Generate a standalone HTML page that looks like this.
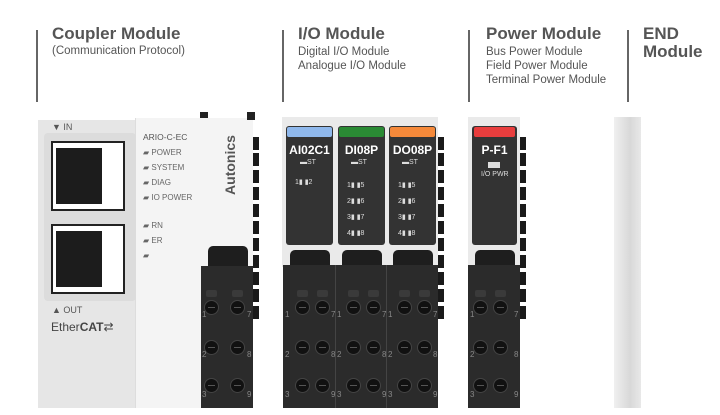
<!DOCTYPE html>
<html><head><meta charset="utf-8"><style>
body{margin:0;width:720px;height:408px;overflow:hidden;background:#fff;font-family:"Liberation Sans",sans-serif;position:relative}
div{position:absolute;box-sizing:border-box}
.vl{width:2px;background:#666;top:30px;height:72px}
.h{font-weight:bold;font-size:17px;color:#555;line-height:18px}
.s{font-size:11.5px;color:#555;line-height:14px}
.blk{background:#2b2b2b}
.hole{width:15px;height:15px;border-radius:50%;background:#111;border:1px solid #444}
.hole:after{content:"";position:absolute;left:3px;right:3px;top:6px;height:1px;background:#555}
.sq{width:11px;height:7px;background:#3a3a3a;border-radius:2px}
.n{font-size:8px;color:#888}
.panel{background:#333;border-radius:3px}
.lab{color:#fff;font-weight:bold;font-size:12px;width:100%;text-align:center}
.led{background:#ddd}
.t{font-size:7px;color:#ddd}
.tab{background:#1a1a1a;width:6px;height:13px}
.clip{background:#1e1e1e;border-radius:5px 5px 0 0}
</style></head><body>
<!-- headers -->
<div class="vl" style="left:36px"></div>
<div class="h" style="left:52px;top:25px">Coupler Module</div>
<div class="s" style="left:52px;top:44px">(Communication Protocol)</div>
<div class="vl" style="left:282px"></div>
<div class="h" style="left:298px;top:25px">I/O Module</div>
<div class="s" style="left:298px;top:45px">Digital I/O Module<br>Analogue I/O Module</div>
<div class="vl" style="left:468px"></div>
<div class="h" style="left:486px;top:25px">Power Module</div>
<div class="s" style="left:486px;top:45px">Bus Power Module<br>Field Power Module<br>Terminal Power Module</div>
<div class="vl" style="left:627px"></div>
<div class="h" style="left:643px;top:25px">END<br>Module</div>

<!-- coupler -->
<div style="left:38px;top:120px;width:98px;height:288px;background:#e6e6e6"></div>
<div style="left:135px;top:118px;width:118px;height:290px;background:#f4f4f4;border-left:1px solid #ddd"></div>
<div style="left:44px;top:133px;width:92px;height:168px;background:#dcdcdc;border-radius:4px"></div>
<div style="left:51px;top:141px;width:74px;height:70px;background:#fff;border:2px solid #222"></div>
<div style="left:56px;top:148px;width:46px;height:56px;background:#1c1c1c"></div>
<div style="left:51px;top:224px;width:74px;height:70px;background:#fff;border:2px solid #222"></div>
<div style="left:56px;top:231px;width:46px;height:56px;background:#1c1c1c"></div>
<div style="left:52px;top:122px;font-size:9px;color:#555">▼ IN</div>
<div style="left:52px;top:305px;font-size:9px;color:#555">▲ OUT</div>
<div style="left:51px;top:320px;font-size:12px;color:#444">Ether<b>CAT</b>⇄</div>
<div style="left:143px;top:132px;font-size:8.5px;color:#555">ARIO-C-EC</div>
<div style="left:143px;top:145px;font-size:8px;color:#666;line-height:15px">▰ POWER<br>▰ SYSTEM<br>▰ DIAG<br>▰ IO POWER</div>
<div style="left:143px;top:218px;font-size:8px;color:#666;line-height:15px">▰ RN<br>▰ ER<br>▰</div>
<div style="left:222px;top:132px;width:20px;height:70px;"><div style="left:-22px;top:25px;transform:rotate(-90deg);font-weight:bold;font-size:14px;color:#555">Autonics</div></div>
<div style="left:200px;top:112px;width:8px;height:6px;background:#222"></div>
<div style="left:247px;top:112px;width:8px;height:8px;background:#222"></div>
<div class="clip" style="left:208px;top:246px;width:40px;height:22px"></div>
<div class="blk" style="left:201px;top:266px;width:52px;height:142px"></div>

<!-- IO modules -->
<div style="left:282px;top:117px;width:156px;height:150px;background:#eaeaea"></div>
<div class="panel" style="left:286px;top:126px;width:47px;height:119px"></div>
<div class="panel" style="left:338px;top:126px;width:47px;height:119px"></div>
<div class="panel" style="left:389px;top:126px;width:47px;height:119px"></div>
<div style="left:287px;top:127px;width:45px;height:10px;background:#8fb8ec;border-radius:2px"></div>
<div style="left:339px;top:127px;width:45px;height:10px;background:#2a8a34;border-radius:2px"></div>
<div style="left:390px;top:127px;width:45px;height:10px;background:#f5893a;border-radius:2px"></div>
<div class="lab" style="left:286px;top:143px;width:47px">AI02C1</div>
<div class="lab" style="left:338px;top:143px;width:47px">DI08P</div>
<div class="lab" style="left:389px;top:143px;width:47px">DO08P</div>
<div class="t" style="left:300px;top:159px">▬ST</div>
<div class="t" style="left:351px;top:159px">▬ST</div>
<div class="t" style="left:402px;top:159px">▬ST</div>
<div class="t" style="left:295px;top:178px">1▮ ▮2</div>
<div class="t" style="left:347px;top:178px;line-height:16px">1▮ ▮5<br>2▮ ▮6<br>3▮ ▮7<br>4▮ ▮8</div>
<div class="t" style="left:398px;top:178px;line-height:16px">1▮ ▮5<br>2▮ ▮6<br>3▮ ▮7<br>4▮ ▮8</div>
<div class="clip" style="left:290px;top:250px;width:40px;height:18px"></div>
<div class="clip" style="left:342px;top:250px;width:40px;height:18px"></div>
<div class="clip" style="left:393px;top:250px;width:40px;height:18px"></div>
<div class="blk" style="left:283px;top:265px;width:155px;height:143px"></div>
<div style="left:335px;top:265px;width:1px;height:143px;background:#444"></div>
<div style="left:386px;top:265px;width:1px;height:143px;background:#444"></div>

<!-- power -->
<div style="left:468px;top:117px;width:52px;height:150px;background:#eaeaea"></div>
<div class="panel" style="left:472px;top:126px;width:45px;height:119px"></div>
<div style="left:474px;top:127px;width:41px;height:10px;background:#e83d3d;border-radius:2px"></div>
<div class="lab" style="left:472px;top:143px;width:45px">P-F1</div>
<div style="left:488px;top:162px;width:12px;height:6px;background:#ddd"></div>
<div class="t" style="left:481px;top:171px">I/O PWR</div>
<div class="clip" style="left:475px;top:250px;width:40px;height:18px"></div>
<div class="blk" style="left:468px;top:265px;width:52px;height:143px"></div>

<!-- end -->
<div style="left:614px;top:117px;width:27px;height:291px;background:linear-gradient(90deg,#f0f0f0,#d8d8d8 60%,#e8e8e8)"></div>

<!-- tabs -->
<div class="tab" style="left:253px;top:137px"></div><div class="tab" style="left:253px;top:153px"></div><div class="tab" style="left:253px;top:170px"></div><div class="tab" style="left:253px;top:187px"></div><div class="tab" style="left:253px;top:204px"></div><div class="tab" style="left:253px;top:221px"></div><div class="tab" style="left:253px;top:238px"></div><div class="tab" style="left:253px;top:255px"></div><div class="tab" style="left:253px;top:272px"></div><div class="tab" style="left:253px;top:289px"></div><div class="tab" style="left:253px;top:306px"></div>
<div class="tab" style="left:438px;top:137px"></div><div class="tab" style="left:438px;top:153px"></div><div class="tab" style="left:438px;top:170px"></div><div class="tab" style="left:438px;top:187px"></div><div class="tab" style="left:438px;top:204px"></div><div class="tab" style="left:438px;top:221px"></div><div class="tab" style="left:438px;top:238px"></div><div class="tab" style="left:438px;top:255px"></div><div class="tab" style="left:438px;top:272px"></div><div class="tab" style="left:438px;top:289px"></div><div class="tab" style="left:438px;top:306px"></div>
<div class="tab" style="left:520px;top:137px"></div><div class="tab" style="left:520px;top:153px"></div><div class="tab" style="left:520px;top:170px"></div><div class="tab" style="left:520px;top:187px"></div><div class="tab" style="left:520px;top:204px"></div><div class="tab" style="left:520px;top:221px"></div><div class="tab" style="left:520px;top:238px"></div><div class="tab" style="left:520px;top:255px"></div><div class="tab" style="left:520px;top:272px"></div><div class="tab" style="left:520px;top:289px"></div><div class="tab" style="left:520px;top:306px"></div>

<!-- holes: coupler 204,230 ; io 295,315 / 346,366 / 397,417 ; power 473,493 -->
<div class="hole" style="left:204px;top:300px"></div><div class="hole" style="left:230px;top:300px"></div><div class="hole" style="left:204px;top:340px"></div><div class="hole" style="left:230px;top:340px"></div><div class="hole" style="left:204px;top:378px"></div><div class="hole" style="left:230px;top:378px"></div>
<div class="hole" style="left:295px;top:300px"></div><div class="hole" style="left:315px;top:300px"></div><div class="hole" style="left:295px;top:340px"></div><div class="hole" style="left:315px;top:340px"></div><div class="hole" style="left:295px;top:378px"></div><div class="hole" style="left:315px;top:378px"></div>
<div class="hole" style="left:346px;top:300px"></div><div class="hole" style="left:366px;top:300px"></div><div class="hole" style="left:346px;top:340px"></div><div class="hole" style="left:366px;top:340px"></div><div class="hole" style="left:346px;top:378px"></div><div class="hole" style="left:366px;top:378px"></div>
<div class="hole" style="left:397px;top:300px"></div><div class="hole" style="left:417px;top:300px"></div><div class="hole" style="left:397px;top:340px"></div><div class="hole" style="left:417px;top:340px"></div><div class="hole" style="left:397px;top:378px"></div><div class="hole" style="left:417px;top:378px"></div>
<div class="hole" style="left:473px;top:300px"></div><div class="hole" style="left:493px;top:300px"></div><div class="hole" style="left:473px;top:340px"></div><div class="hole" style="left:493px;top:340px"></div><div class="hole" style="left:473px;top:378px"></div><div class="hole" style="left:493px;top:378px"></div>
<div class="sq" style="left:206px;top:290px"></div><div class="sq" style="left:232px;top:290px"></div><div class="sq" style="left:297px;top:290px"></div><div class="sq" style="left:317px;top:290px"></div><div class="sq" style="left:348px;top:290px"></div><div class="sq" style="left:368px;top:290px"></div><div class="sq" style="left:399px;top:290px"></div><div class="sq" style="left:419px;top:290px"></div><div class="sq" style="left:475px;top:290px"></div><div class="sq" style="left:495px;top:290px"></div>
<div class="n" style="left:202px;top:295px;line-height:40px">1<br>2<br>3</div><div class="n" style="left:247px;top:295px;line-height:40px">7<br>8<br>9</div>
<div class="n" style="left:285px;top:295px;line-height:40px">1<br>2<br>3</div><div class="n" style="left:331px;top:295px;line-height:40px">7<br>8<br>9</div>
<div class="n" style="left:337px;top:295px;line-height:40px">1<br>2<br>3</div><div class="n" style="left:382px;top:295px;line-height:40px">7<br>8<br>9</div>
<div class="n" style="left:388px;top:295px;line-height:40px">1<br>2<br>3</div><div class="n" style="left:433px;top:295px;line-height:40px">7<br>8<br>9</div>
<div class="n" style="left:470px;top:295px;line-height:40px">1<br>2<br>3</div><div class="n" style="left:514px;top:295px;line-height:40px">7<br>8<br>9</div>
</body></html>
